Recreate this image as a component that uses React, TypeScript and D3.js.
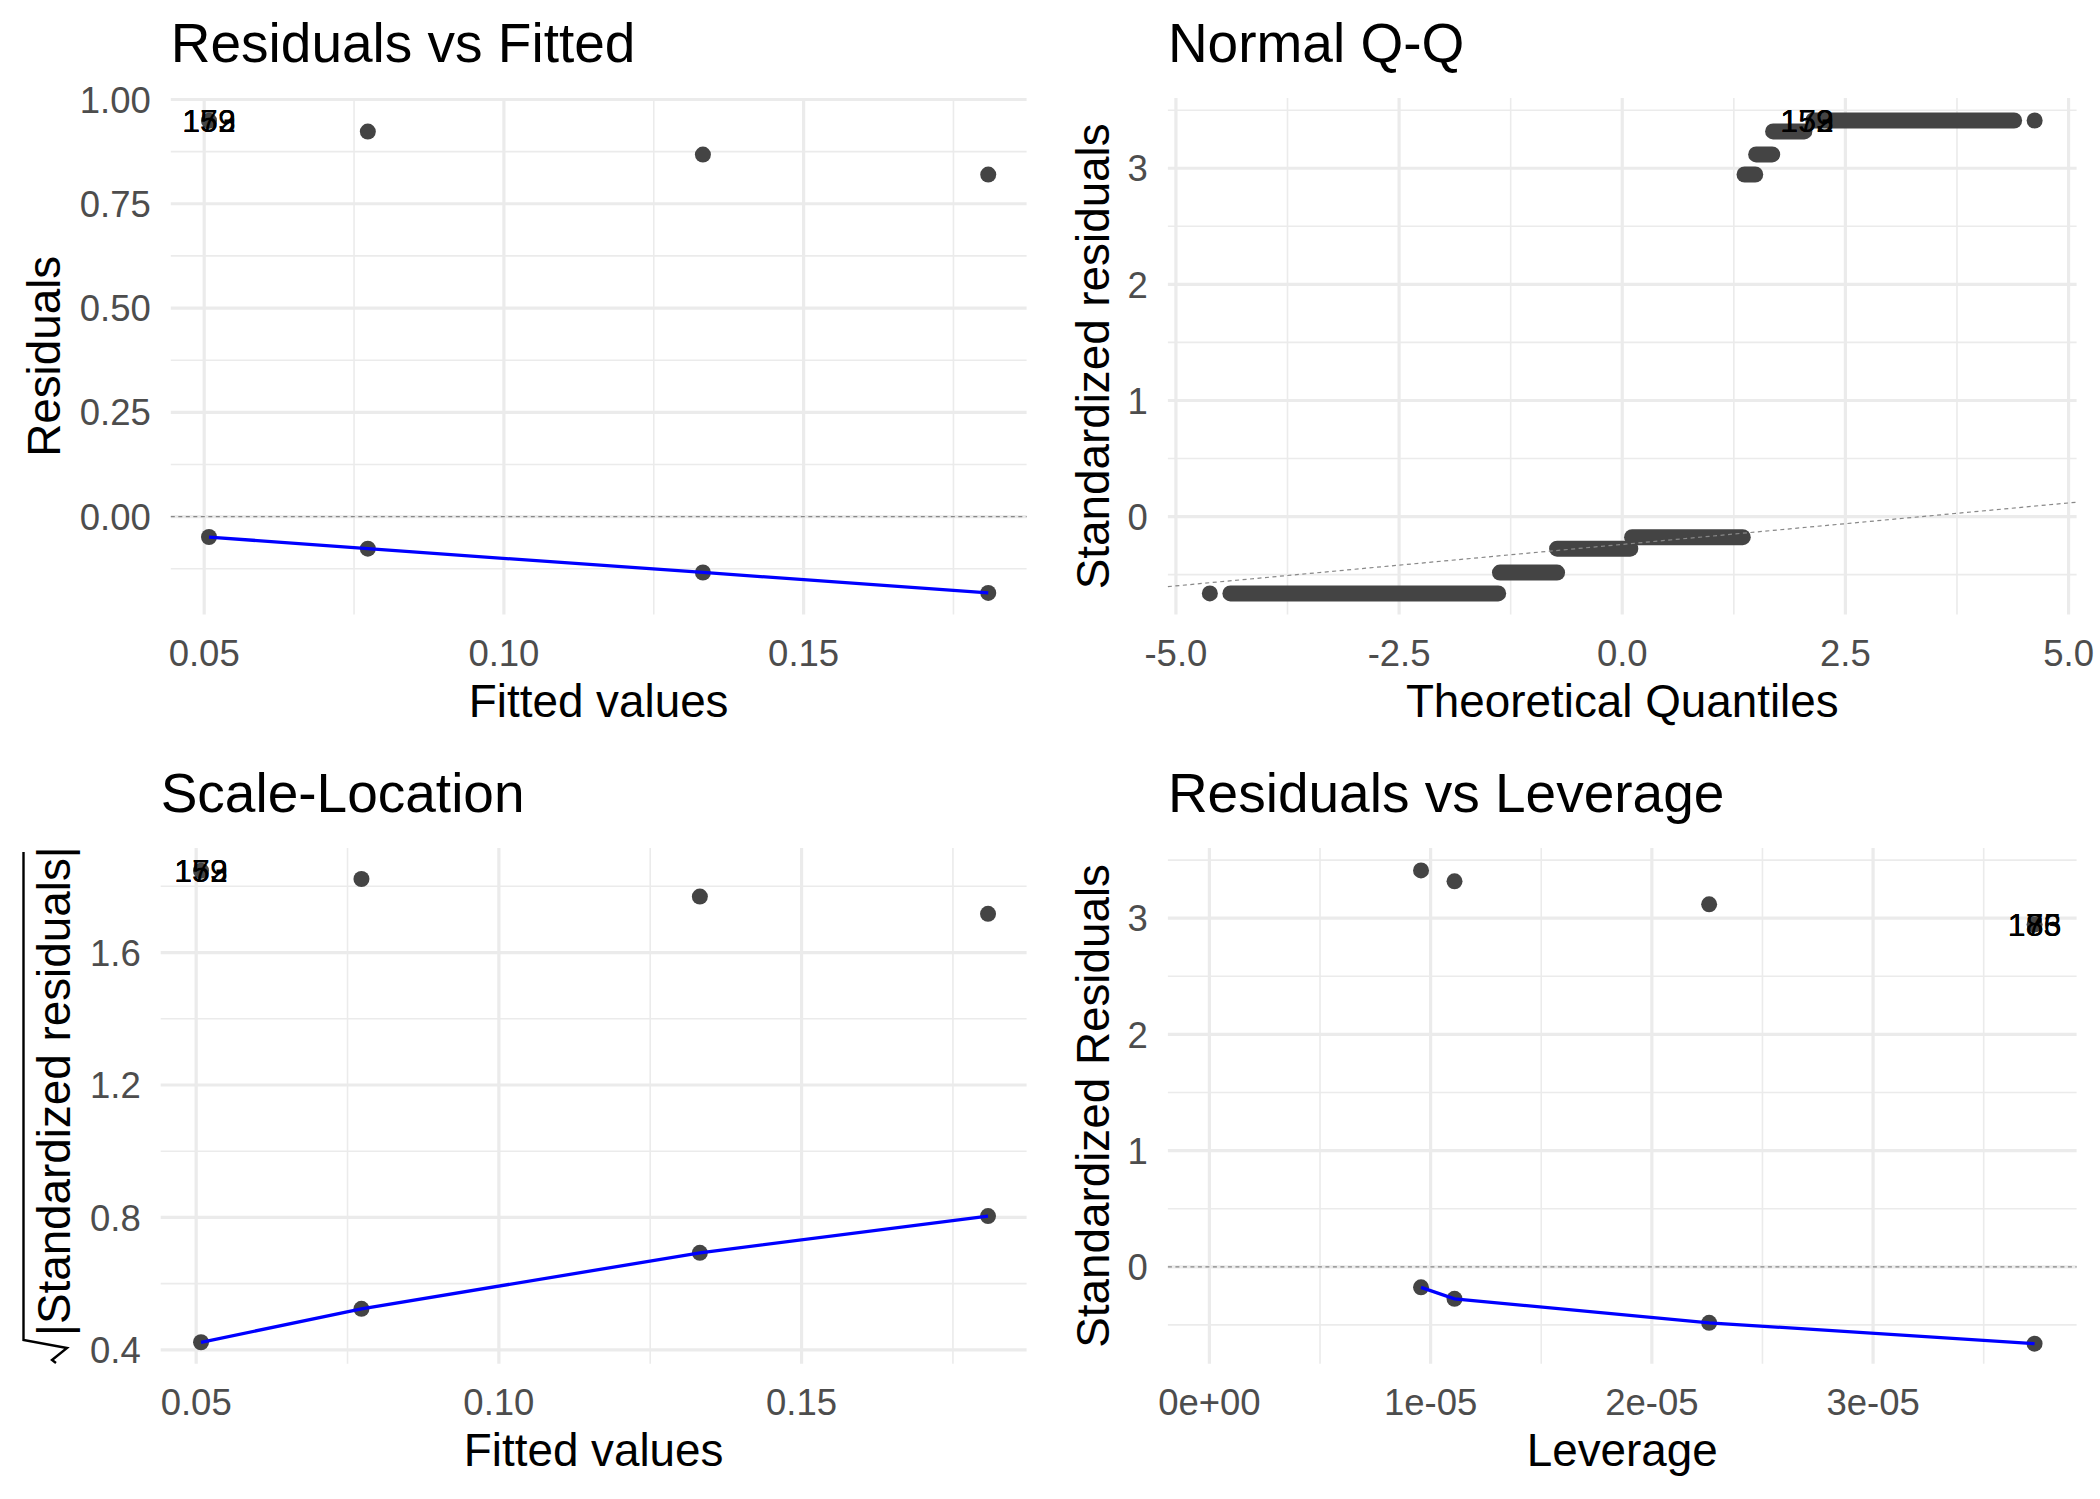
import React from 'react';
import * as d3 from 'd3';

// ---------------- data ----------------
const fittedValues = [0.0508, 0.0773, 0.1332, 0.1808];
const residualsLow = [-0.049, -0.077, -0.134, -0.183];
const residualsHigh = [0.949, 0.923, 0.868, 0.82];
const sqrtStdResLow = [0.423, 0.524, 0.693, 0.804];
const sqrtStdResHigh = [1.847, 1.822, 1.769, 1.717];
const leverageValues = [0.9566e-5, 1.108e-5, 2.259e-5, 3.73e-5];
const stdResLow = [-0.177, -0.276, -0.482, -0.662];
const stdResHigh = [3.411, 3.317, 3.119, 2.946];

// Normal Q-Q: runs of tied standardized residuals along the theoretical quantiles
const qqRunLevel = [-0.662, -0.482, -0.276, -0.177, 2.946, 3.119, 3.317, 3.411];
const qqRunStart = [-4.39, -1.37, -0.73, 0.11, 1.37, 1.5, 1.69, 2.14];
const qqRunEnd = [-1.39, -0.73, 0.09, 1.35, 1.49, 1.68, 2.04, 4.39];
const qqSingleX = [-4.62, 4.62];
const qqSingleY = [-0.662, 3.411];
const qqLineX = [-5.09, 5.09];
const qqLineY = [-0.603, 0.124];
const qqLabelX = 2.07;

const outlierLabels = ['173', '159', '152'];
const leverageLabels = ['183', '186', '175'];

// tick values / labels
const fitTicks = [0.05, 0.1, 0.15];
const fitTickLabels = ['0.05', '0.10', '0.15'];
const fitMinor = [0.075, 0.125, 0.175];
const residTicks = [0, 0.25, 0.5, 0.75, 1];
const residTickLabels = ['0.00', '0.25', '0.50', '0.75', '1.00'];
const residMinor = [-0.125, 0.125, 0.375, 0.625, 0.875];
const qqTicks = [-5, -2.5, 0, 2.5, 5];
const qqTickLabels = ['-5.0', '-2.5', '0.0', '2.5', '5.0'];
const qqMinor = [-3.75, -1.25, 1.25, 3.75];
const stdTicks = [0, 1, 2, 3];
const stdTickLabels = ['0', '1', '2', '3'];
const stdMinor = [-0.5, 0.5, 1.5, 2.5, 3.5];
const sqrtTicks = [0.4, 0.8, 1.2, 1.6];
const sqrtTickLabels = ['0.4', '0.8', '1.2', '1.6'];
const sqrtMinor = [0.6, 1.0, 1.4, 1.8];
const levTicks = [0, 1e-5, 2e-5, 3e-5];
const levTickLabels = ['0e+00', '1e-05', '2e-05', '3e-05'];
const levMinor = [0.5e-5, 1.5e-5, 2.5e-5, 3.5e-5];

// ---------------- styling ----------------
const FONT = "'Liberation Sans', Arial, Helvetica, sans-serif";
const GRID = '#EBEBEB';
const PT = '#444444';
const R = 8;
const TITLE_SIZE = 55;
const AXIS_TITLE_SIZE = 45.8;
const TICK_SIZE = 36.5;
const LABEL_SIZE = 32;

type Layout = { left: number; right: number; top: number; bottom: number; yTitleX: number };

type PanelProps = {
  layout: Layout;
  xDomain: [number, number];
  yDomain: [number, number];
  xTicks: number[];
  xTickLabels: string[];
  xMinor: number[];
  yTicks: number[];
  yTickLabels: string[];
  yMinor: number[];
  title: string;
  xTitle: string;
  yTitle?: string;
  yTitleNode?: React.ReactNode;
  children: (x: d3.ScaleLinear<number, number>, y: d3.ScaleLinear<number, number>) => React.ReactNode;
};

function Panel(p: PanelProps) {
  const { layout: L } = p;
  const x = d3.scaleLinear().domain(p.xDomain).range([L.left, L.right]);
  const y = d3.scaleLinear().domain(p.yDomain).range([L.bottom, L.top]);
  const cy = (L.top + L.bottom) / 2;
  const cx = (L.left + L.right) / 2;
  return (
    <g>
      {p.yMinor.map((v, i) => (
        <line key={'ym' + i} x1={L.left} x2={L.right} y1={y(v)} y2={y(v)} stroke={GRID} strokeWidth={1.6} />
      ))}
      {p.xMinor.map((v, i) => (
        <line key={'xm' + i} x1={x(v)} x2={x(v)} y1={L.top} y2={L.bottom} stroke={GRID} strokeWidth={1.6} />
      ))}
      {p.yTicks.map((v, i) => (
        <line key={'yM' + i} x1={L.left} x2={L.right} y1={y(v)} y2={y(v)} stroke={GRID} strokeWidth={3.2} />
      ))}
      {p.xTicks.map((v, i) => (
        <line key={'xM' + i} x1={x(v)} x2={x(v)} y1={L.top} y2={L.bottom} stroke={GRID} strokeWidth={3.2} />
      ))}
      {p.yTicks.map((v, i) => (
        <text key={'yt' + i} x={L.left - 20} y={y(v) + TICK_SIZE * 0.36} textAnchor="end"
          fontFamily={FONT} fontSize={TICK_SIZE} fill="#4D4D4D">{p.yTickLabels[i]}</text>
      ))}
      {p.xTicks.map((v, i) => (
        <text key={'xt' + i} x={x(v)} y={L.bottom + 51} textAnchor="middle"
          fontFamily={FONT} fontSize={TICK_SIZE} fill="#4D4D4D">{p.xTickLabels[i]}</text>
      ))}
      <text x={L.left} y={L.top - 36} fontFamily={FONT} fontSize={TITLE_SIZE} fill="#000">{p.title}</text>
      <text x={cx} y={L.bottom + 102.6} textAnchor="middle" fontFamily={FONT} fontSize={AXIS_TITLE_SIZE} fill="#000">{p.xTitle}</text>
      {p.yTitle ? (
        <text transform={`translate(${L.yTitleX},${cy}) rotate(-90)`} textAnchor="middle"
          fontFamily={FONT} fontSize={AXIS_TITLE_SIZE} fill="#000">{p.yTitle}</text>
      ) : p.yTitleNode}
      {p.children(x, y)}
    </g>
  );
}

const dashed = { stroke: '#888888', strokeWidth: 1.2, strokeDasharray: '4,3.5', fill: 'none' };

export default function App() {
  const L1: Layout = { left: 170.8, right: 1026.6, top: 98, bottom: 614.6, yTitleX: 60 };
  const L2: Layout = { left: 1167.9, right: 2076.6, top: 98, bottom: 614.6, yTitleX: 1109 };
  const L3: Layout = { left: 160.7, right: 1026.6, top: 847.9, bottom: 1363.8, yTitleX: 70 };
  const L4: Layout = { left: 1167.9, right: 2076.6, top: 847.9, bottom: 1363.8, yTitleX: 1109 };

  const lineGen = (x: any, y: any) =>
    d3.line<[number, number]>().x((d) => x(d[0])).y((d) => y(d[1]));

  const labelText = (labels: string[], px: number, py: number) =>
    labels.map((t, i) => (
      <text key={'lab' + i} x={px} y={py + LABEL_SIZE * 0.36} textAnchor="middle"
        fontFamily={FONT} fontSize={LABEL_SIZE} fill="#000">{t}</text>
    ));

  const points = (xs: number[], ys: number[], x: any, y: any, key: string) =>
    xs.map((v, i) => <circle key={key + i} cx={x(v)} cy={y(ys[i])} r={R} fill={PT} />);

  const sqrtTextTop = 852;
  const sqrtTextBottom = 1336;
  const sqrtTitle = (
    <g>
      <text transform={`translate(70,${sqrtTextBottom}) rotate(-90)`} textAnchor="start"
        fontFamily={FONT} fontSize={AXIS_TITLE_SIZE} fill="#000">|Standardized residuals|</text>
      <path d={`M23.5,${sqrtTextTop} V${sqrtTextBottom + 4} L67,${sqrtTextBottom + 12} L52,${sqrtTextBottom + 24} L56,${sqrtTextBottom + 27}`}
        fill="none" stroke="#000" strokeWidth={2.4} strokeLinejoin="miter" />
    </g>
  );

  return (
    <svg width={2100} height={1499} style={{ position: 'absolute', left: 0, top: 0, background: '#fff' }}>
      <rect x={0} y={0} width={2100} height={1499} fill="#fff" />

      <Panel layout={L1} xDomain={[0.04443, 0.1872]} yDomain={[-0.235, 1.0036]}
        xTicks={fitTicks} xTickLabels={fitTickLabels} xMinor={fitMinor}
        yTicks={residTicks} yTickLabels={residTickLabels} yMinor={residMinor}
        title="Residuals vs Fitted" xTitle="Fitted values" yTitle="Residuals">
        {(x, y) => (
          <g>
            <line x1={L1.left} x2={L1.right} y1={y(0)} y2={y(0)} {...dashed} />
            {points(fittedValues, residualsLow, x, y, 'lo')}
            {points(fittedValues, residualsHigh, x, y, 'hi')}
            <path d={lineGen(x, y)(fittedValues.map((v, i) => [v, residualsLow[i]]) as [number, number][]) || ''}
              fill="none" stroke="#0000FF" strokeWidth={3.3} />
            {labelText(outlierLabels, x(fittedValues[0]), y(residualsHigh[0]))}
          </g>
        )}
      </Panel>

      <Panel layout={L2} xDomain={[-5.09, 5.09]} yDomain={[-0.844, 3.605]}
        xTicks={qqTicks} xTickLabels={qqTickLabels} xMinor={qqMinor}
        yTicks={stdTicks} yTickLabels={stdTickLabels} yMinor={stdMinor}
        title="Normal Q-Q" xTitle="Theoretical Quantiles" yTitle="Standardized residuals">
        {(x, y) => (
          <g>
            {qqRunLevel.map((lv, i) => (
              <line key={'run' + i} x1={x(qqRunStart[i])} x2={x(qqRunEnd[i])} y1={y(lv)} y2={y(lv)}
                stroke={PT} strokeWidth={2 * R} strokeLinecap="round" />
            ))}
            {points(qqSingleX, qqSingleY, x, y, 'qs')}
            <line x1={x(qqLineX[0])} x2={x(qqLineX[1])} y1={y(qqLineY[0])} y2={y(qqLineY[1])} {...dashed} />
            {labelText(outlierLabels, x(qqLabelX), y(qqRunLevel[7]))}
          </g>
        )}
      </Panel>

      <Panel layout={L3} xDomain={[0.04414, 0.18717]} yDomain={[0.358, 1.916]}
        xTicks={fitTicks} xTickLabels={fitTickLabels} xMinor={fitMinor}
        yTicks={sqrtTicks} yTickLabels={sqrtTickLabels} yMinor={sqrtMinor}
        title="Scale-Location" xTitle="Fitted values" yTitleNode={sqrtTitle}>
        {(x, y) => (
          <g>
            {points(fittedValues, sqrtStdResLow, x, y, 'lo')}
            {points(fittedValues, sqrtStdResHigh, x, y, 'hi')}
            <path d={lineGen(x, y)(fittedValues.map((v, i) => [v, sqrtStdResLow[i]]) as [number, number][]) || ''}
              fill="none" stroke="#0000FF" strokeWidth={3.3} />
            {labelText(outlierLabels, x(fittedValues[0]), y(sqrtStdResHigh[0]))}
          </g>
        )}
      </Panel>

      <Panel layout={L4} xDomain={[-0.1876e-5, 3.92e-5]} yDomain={[-0.835, 3.605]}
        xTicks={levTicks} xTickLabels={levTickLabels} xMinor={levMinor}
        yTicks={stdTicks} yTickLabels={stdTickLabels} yMinor={stdMinor}
        title="Residuals vs Leverage" xTitle="Leverage" yTitle="Standardized Residuals">
        {(x, y) => (
          <g>
            <line x1={L4.left} x2={L4.right} y1={y(0)} y2={y(0)} {...dashed} />
            {points(leverageValues, stdResLow, x, y, 'lo')}
            {points(leverageValues, stdResHigh, x, y, 'hi')}
            <path d={lineGen(x, y)(leverageValues.map((v, i) => [v, stdResLow[i]]) as [number, number][]) || ''}
              fill="none" stroke="#0000FF" strokeWidth={3.3} />
            {labelText(leverageLabels, x(leverageValues[3]), y(stdResHigh[3]))}
          </g>
        )}
      </Panel>
    </svg>
  );
}
